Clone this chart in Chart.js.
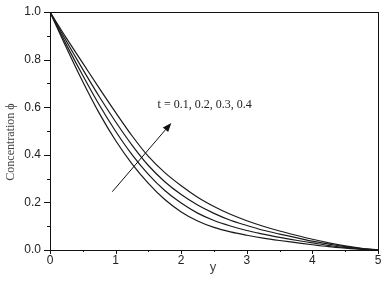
<!DOCTYPE html>
<html>
<head>
<meta charset="utf-8">
<script src="https://cdn.jsdelivr.net/npm/chart.js@4"></script>
<style>
  html, body { margin: 0; padding: 0; background: #fff; }
  #wrap { width: 382px; height: 282px; }
</style>
</head>
<body>
<div id="wrap"><canvas id="concChart" width="382" height="282"></canvas></div>
<script>
// ==========================
// Data
// ==========================
const yPoints = [0, 0.25, 0.5, 0.75, 1, 1.25, 1.5, 1.75, 2, 2.25, 2.5, 2.75, 3, 3.25, 3.5, 3.75, 4, 4.25, 4.5, 4.75, 5];

const phiT01 = [1, 0.85, 0.707, 0.575, 0.46, 0.362, 0.28, 0.212, 0.16, 0.122, 0.095, 0.076, 0.062, 0.05, 0.04, 0.031, 0.022, 0.014, 0.008, 0.003, 0];
const phiT02 = [1, 0.863, 0.733, 0.61, 0.499, 0.401, 0.318, 0.25, 0.197, 0.155, 0.124, 0.101, 0.082, 0.067, 0.053, 0.041, 0.03, 0.019, 0.011, 0.004, 0];
const phiT03 = [1, 0.877, 0.759, 0.645, 0.539, 0.441, 0.355, 0.287, 0.233, 0.189, 0.154, 0.125, 0.103, 0.083, 0.067, 0.052, 0.037, 0.025, 0.014, 0.006, 0];
const phiT04 = [1, 0.89, 0.785, 0.68, 0.578, 0.48, 0.393, 0.325, 0.27, 0.222, 0.183, 0.15, 0.123, 0.1, 0.08, 0.062, 0.045, 0.03, 0.017, 0.007, 0];

const seriesLabels = ["t = 0.1", "t = 0.2", "t = 0.3", "t = 0.4"];
const seriesValues = [phiT01, phiT02, phiT03, phiT04];

const xTickLabels = ["0", "1", "2", "3", "4", "5"];
const yTickLabels = ["0.0", "0.2", "0.4", "0.6", "0.8", "1.0"];

// annotation (arrow in data units, tail -> tip)
const arrowTail = { x: 0.95, y: 0.245 };
const arrowTip = { x: 1.85, y: 0.534 };
const noteText = "t = 0.1, 0.2, 0.3, 0.4";
const notePos = { x: 1.64, y: 0.6 };

// ==========================
// Frame, ticks and texts
// ==========================
const framePlugin = {
  id: "frame",
  afterDraw(chart) {
    const ctx = chart.ctx;
    const area = chart.chartArea;
    const xs = chart.scales.x;
    const ys = chart.scales.y;

    ctx.save();
    ctx.strokeStyle = "#111";
    ctx.lineWidth = 1;
    ctx.strokeRect(Math.round(area.left) + 0.5, Math.round(area.top) + 0.5,
      Math.round(area.right - area.left), Math.round(area.bottom - area.top));

    // ticks, outward, major longer than minor
    ctx.beginPath();
    ys.ticks.forEach((t, i) => {
      const py = Math.round(ys.getPixelForValue(t.value)) + 0.5;
      const len = (i % 2 === 0) ? 6 : 3;
      ctx.moveTo(area.left, py);
      ctx.lineTo(area.left - len, py);
    });
    xs.ticks.forEach((t, i) => {
      const px = Math.round(xs.getPixelForValue(t.value)) + 0.5;
      const len = (i % 2 === 0) ? 4 : 2;
      ctx.moveTo(px, area.bottom);
      ctx.lineTo(px, area.bottom + len);
    });
    ctx.stroke();

    // axis titles
    ctx.fillStyle = "#444";
    ctx.font = "12px 'Liberation Serif', 'Times New Roman', serif";
    ctx.textAlign = "center";
    ctx.textBaseline = "middle";
    ctx.save();
    ctx.translate(11, 142);
    ctx.rotate(-Math.PI / 2);
    ctx.fillText("Concentration \u03d5", 0, 0);
    ctx.restore();

    ctx.font = "13px 'Liberation Sans', Arial, sans-serif";
    ctx.fillText("y", 213, 267);

    // arrow
    const x0 = xs.getPixelForValue(arrowTail.x), y0 = ys.getPixelForValue(arrowTail.y);
    const x1 = xs.getPixelForValue(arrowTip.x), y1 = ys.getPixelForValue(arrowTip.y);
    const ang = Math.atan2(y1 - y0, x1 - x0);
    const headLen = 9, headW = 3.5;
    const bx = x1 - headLen * Math.cos(ang), by = y1 - headLen * Math.sin(ang);
    ctx.strokeStyle = "#111";
    ctx.fillStyle = "#111";
    ctx.beginPath();
    ctx.moveTo(x0, y0);
    ctx.lineTo(bx, by);
    ctx.stroke();
    ctx.beginPath();
    ctx.moveTo(x1, y1);
    ctx.lineTo(bx + headW * Math.sin(ang), by - headW * Math.cos(ang));
    ctx.lineTo(bx - headW * Math.sin(ang), by + headW * Math.cos(ang));
    ctx.closePath();
    ctx.fill();

    // note
    ctx.fillStyle = "#222";
    ctx.font = "12px 'Liberation Serif', 'Times New Roman', serif";
    ctx.textAlign = "left";
    ctx.fillText(noteText, xs.getPixelForValue(notePos.x), ys.getPixelForValue(notePos.y) - 2);
    ctx.restore();
  }
};

// ==========================
// Chart
// ==========================
const datasets = seriesValues.map((vals, i) => ({
  label: seriesLabels[i],
  data: vals.map((v, k) => ({ x: yPoints[k], y: v })),
  borderColor: "#1a1a1a",
  borderWidth: 1.2,
  pointRadius: 0,
  fill: false,
  cubicInterpolationMode: "monotone"
}));

const ctx = document.getElementById("concChart").getContext("2d");
new Chart(ctx, {
  type: "line",
  data: { datasets: datasets },
  options: {
    responsive: false,
    animation: false,
    layout: { padding: { top: 12, right: 4, left: 0, bottom: 0 } },
    plugins: { legend: { display: false }, tooltip: { enabled: false } },
    scales: {
      x: {
        type: "linear",
        min: 0,
        max: 5,
        grid: { display: false, drawTicks: false, tickLength: 0 },
        border: { display: false },
        ticks: {
          stepSize: 0.5,
          padding: 3,
          color: "#222",
          font: { family: "'Liberation Sans', Arial, sans-serif", size: 12 },
          maxRotation: 0,
          autoSkip: false,
          callback: (v) => Number.isInteger(v) ? xTickLabels[v] : ""
        },
        afterFit(scale) {
          scale.height = 32;
          scale.paddingLeft = 0;
          scale.paddingRight = 0;
        }
      },
      y: {
        min: 0,
        max: 1,
        grid: { display: false, drawTicks: false, tickLength: 0 },
        border: { display: false },
        ticks: {
          stepSize: 0.1,
          padding: 9,
          color: "#222",
          font: { family: "'Liberation Sans', Arial, sans-serif", size: 12 },
          autoSkip: false,
          callback: (v, i) => (i % 2 === 0) ? yTickLabels[i / 2] : ""
        },
        afterFit(scale) {
          scale.width = 50;
          scale.paddingTop = 0;
          scale.paddingBottom = 0;
        }
      }
    }
  },
  plugins: [framePlugin]
});
</script>
</body>
</html>
